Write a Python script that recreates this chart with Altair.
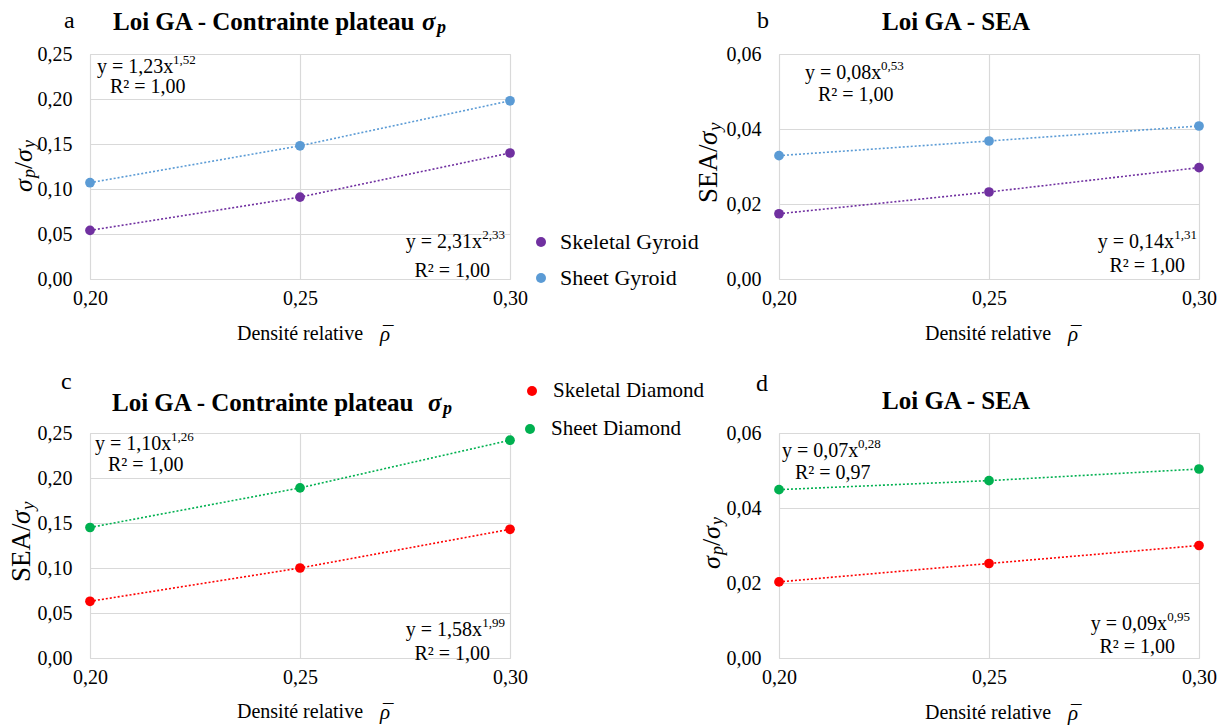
import altair as alt
import pandas as pd

FONT = "Liberation Serif"

# ---------------- data ----------------
rho = [0.20, 0.25, 0.30]

gyroid_series = ["Skeletal Gyroid", "Sheet Gyroid"]
gyroid_colors = ["#7030A0", "#5B9BD5"]
diamond_series = ["Skeletal Diamond", "Sheet Diamond"]
diamond_colors = ["#FF0000", "#00B050"]

a_skeletal = [0.054, 0.091, 0.140]
a_sheet = [0.107, 0.148, 0.198]
b_skeletal = [0.0174, 0.0232, 0.0297]
b_sheet = [0.0329, 0.0368, 0.0408]
c_skeletal = [0.063, 0.100, 0.143]
c_sheet = [0.145, 0.189, 0.242]
d_skeletal = [0.0203, 0.0252, 0.0300]
d_sheet = [0.0449, 0.0473, 0.0504]

x_ticks = [0.20, 0.25, 0.30]
y_ticks_stress = [0.0, 0.05, 0.10, 0.15, 0.20, 0.25]
y_ticks_sea = [0.0, 0.02, 0.04, 0.06]

fits = {
    "a": [("y = 1,23x", "1,52", "R² = 1,00"), ("y = 2,31x", "2,33", "R² = 1,00")],
    "b": [("y = 0,08x", "0,53", "R² = 1,00"), ("y = 0,14x", "1,31", "R² = 1,00")],
    "c": [("y = 1,10x", "1,26", "R² = 1,00"), ("y = 1,58x", "1,99", "R² = 1,00")],
    "d": [("y = 0,07x", "0,28", "R² = 0,97"), ("y = 0,09x", "0,95", "R² = 1,00")],
}

ONE = pd.DataFrame({"k": [0]})
LAB = "replace(format(datum.value, '.2f'), '.', ',')"
W, H = 420, 225


def frame(skel, sheet, names):
    return pd.DataFrame({
        "rho": rho + rho,
        "val": skel + sheet,
        "serie": [names[0]] * 3 + [names[1]] * 3,
    })


def txt(text, x, y, size=20, weight="normal", style="normal", align="left",
        angle=0, dx=0, dy=0):
    return alt.Chart(ONE).mark_text(
        text=text, font=FONT, fontSize=size, fontWeight=weight, fontStyle=style,
        align=align, baseline="middle", angle=angle, dx=dx, dy=dy, color="black"
    ).encode(x=alt.value(x), y=alt.value(y))


def dot(color, x, y):
    return alt.Chart(ONE).mark_circle(size=100, opacity=1, color=color).encode(
        x=alt.value(x), y=alt.value(y))


def legend_layers(names, colors, entries, size=21):
    out = []
    for name, color, (cx, cy, tx) in zip(names, colors, entries):
        out.append(dot(color, cx, cy))
        out.append(txt(name, tx, cy, size=size))
    return out


def fit_texts(key, tl, br):
    (m1, s1, r1), (m2, s2, r2) = fits[key]
    out = []
    x0, y0, rx, ry = tl
    out.append(txt(m1, x0, y0))
    out.append(txt(s1, x0 + 76, y0 - 7, size=13))
    out.append(txt(r1, rx, ry))
    xe, y1, rxe, ry2 = br
    out.append(txt(m2, xe - 23, y1, align="right"))
    out.append(txt(s2, xe, y1 - 7, size=13, align="right"))
    out.append(txt(r2, rxe, ry2, align="right"))
    return out


def ytitle_sigma(cx, cy):
    start = cy + 27
    return [
        txt("σ", cx, start, size=26, style="italic", angle=270, dx=0),
        txt("p", cx, start, size=18, style="italic", angle=270, dx=14, dy=6),
        txt("/", cx, start, size=26, angle=270, dx=23),
        txt("σ", cx, start, size=26, style="italic", angle=270, dx=30),
        txt("y", cx, start, size=18, style="italic", angle=270, dx=44, dy=6),
    ]


def ytitle_sea(cx, cy):
    start = cy + 42
    return [
        txt("SEA/", cx, start, size=27, angle=270, dx=0),
        txt("σ", cx, start, size=27, style="italic", angle=270, dx=58),
        txt("y", cx, start, size=19, style="italic", angle=270, dx=72, dy=6),
    ]


def xtitle(x, y, rx):
    return [
        txt("Densité relative", x, y, size=20),
        txt("ρ", rx, y + 1, size=21, style="italic"),
        txt("¯", rx + 3, y + 1, size=21),
    ]


def title_stress(letter_xy, x, y, sx):
    return [
        txt(letter_xy[0], letter_xy[1], letter_xy[2], size=24),
        txt("Loi GA - Contrainte plateau", x, y, size=25, weight="bold"),
        txt("σ", sx, y, size=25, weight="bold", style="italic"),
        txt("p", sx + 15, y + 6, size=18, weight="bold", style="italic"),
    ]


def title_sea(letter_xy, cx, y):
    return [
        txt(letter_xy[0], letter_xy[1], letter_xy[2], size=24),
        txt("Loi GA - SEA", cx, y, size=25, weight="bold", align="center"),
    ]


def panel(df, names, colors, ydom, yticks, extras, w=W, h=H):
    xenc = alt.X("rho:Q", scale=alt.Scale(domain=[0.2, 0.3], nice=False, zero=False),
                 axis=alt.Axis(values=x_ticks, labelExpr=LAB, title=None, grid=True,
                               gridColor="#D9D9D9", gridWidth=1.2, domain=False, ticks=False,
                               labelFont=FONT, labelFontSize=20, labelColor="black",
                               labelPadding=9, labelFlush=False))
    yenc = alt.Y("val:Q", scale=alt.Scale(domain=ydom, nice=False, zero=True),
                 axis=alt.Axis(values=yticks, labelExpr=LAB, title=None, grid=True,
                               gridColor="#D9D9D9", gridWidth=1.2, domain=False, ticks=False,
                               labelFont=FONT, labelFontSize=20, labelColor="black",
                               labelPadding=18, labelFlush=False))
    lines = alt.Chart(df).mark_line(strokeDash=[2, 2], strokeWidth=1.6).encode(
        x=xenc, y=yenc,
        stroke=alt.Stroke("serie:N", scale=alt.Scale(domain=names, range=colors), legend=None),
    )
    pts = alt.Chart(df).mark_circle(size=95, opacity=1).encode(
        x=xenc, y=yenc,
        color=alt.Color("serie:N", scale=alt.Scale(domain=names, range=colors),
                        legend=None),
    )
    return alt.layer(lines, pts, *extras).properties(width=w, height=h)


anchor = alt.Chart(ONE).mark_rule(strokeOpacity=0).encode(
    x=alt.value(-100), x2=alt.value(-99), y=alt.value(-70), y2=alt.value(-69))

# panel a
ext_a = ([anchor]
         + title_stress(("a", -26, -33), 23, -32, 332)
         + ytitle_sigma(-66, 111)
         + xtitle(147, 280, 290)
         + fit_texts("a", (7, 13, 20, 33), (415, 188, 400, 217))
         + legend_layers(gyroid_series, gyroid_colors,
                         [(451, 188, 470), (451, 224, 470)], size=22))
pa = panel(frame(a_skeletal, a_sheet, gyroid_series), gyroid_series, gyroid_colors,
           [0, 0.25], y_ticks_stress, ext_a)

# panel b
ext_b = (title_sea(("b", -22, -33), 177, -32)
         + ytitle_sea(-70, 107)
         + xtitle(146, 280, 289)
         + fit_texts("b", (26, 19, 39, 41), (418, 188, 406, 212)))
pb = panel(frame(b_skeletal, b_sheet, gyroid_series), gyroid_series, gyroid_colors,
           [0, 0.06], y_ticks_sea, ext_b)

# panel c
ext_c = (title_stress(("c", -29, -51), 22, -30, 338)
         + ytitle_sea(-68, 107)
         + xtitle(147, 279, 290)
         + fit_texts("c", (5, 11, 18, 32), (415, 197, 400, 221))
         + legend_layers(diamond_series, diamond_colors,
                         [(442, -42, 463), (440, -4, 461)]))
pc = panel(frame(c_skeletal, c_sheet, diamond_series), diamond_series, diamond_colors,
           [0, 0.25], y_ticks_stress, ext_c)

# panel d
ext_d = (title_sea(("d", -23, -49), 177, -32)
         + ytitle_sigma(-67, 109)
         + xtitle(146, 280, 289)
         + fit_texts("d", (3, 18, 16, 40), (411, 191, 396, 214)))
pd_ = panel(frame(d_skeletal, d_sheet, diamond_series), diamond_series, diamond_colors,
            [0, 0.06], y_ticks_sea, ext_d)

chart = alt.concat(
    pa, pb, pc, pd_, columns=2, spacing={"row": 154, "column": 269}, bounds="flush"
).resolve_scale(
    color="independent", stroke="independent"
).properties(
    padding={"left": -19, "top": -25, "right": 0, "bottom": 0}
).configure_view(stroke="#D9D9D9")

chart.save("out.html", embed_options={"renderer": "svg", "actions": False})
